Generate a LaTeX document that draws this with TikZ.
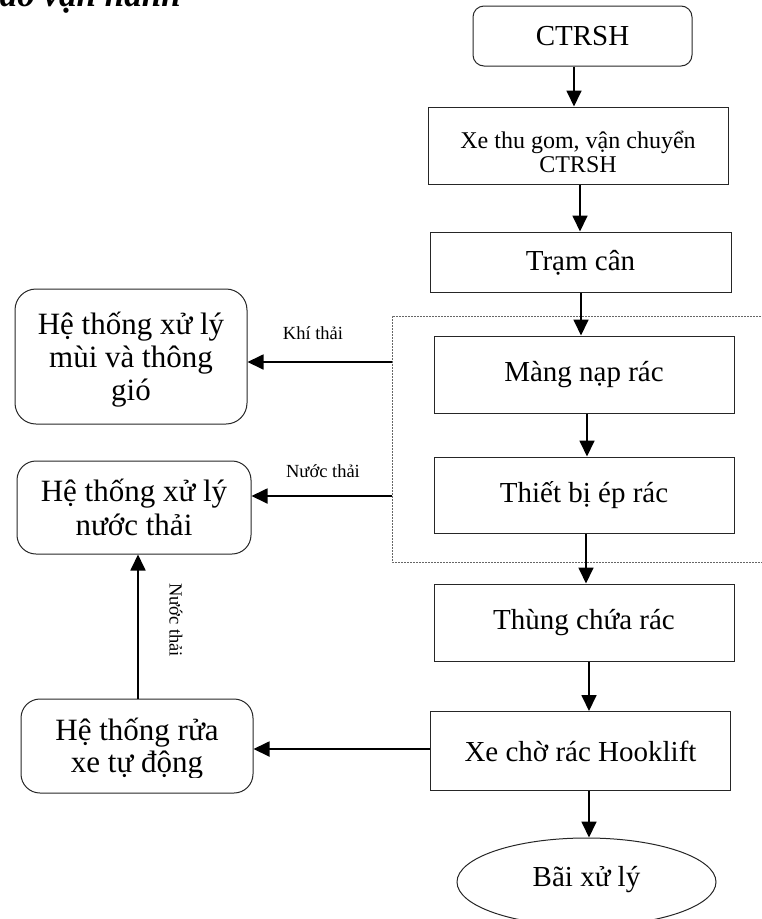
\documentclass[tikz,border=0pt]{standalone}
\usepackage{fontspec}
\setmainfont{Liberation Serif}
\usetikzlibrary{arrows.meta,shapes.geometric}

\newcommand{\fsMain}{\fontsize{29}{33}\selectfont}
\newcommand{\fsSide}{\fontsize{31}{32}\selectfont}
\newcommand{\fsSmall}{\fontsize{24}{24}\selectfont}
\newcommand{\fsLabel}{\fontsize{18.5}{20}\selectfont}

\tikzset{
  stepbox/.style={draw=black!85, line width=1pt, inner sep=0pt, align=center, font=\fsMain},
  sidebox/.style={draw=black!85, line width=1pt, inner sep=0pt, align=center, font=\fsSide, rounded corners=21pt},
  boxtext/.style={inner sep=0pt, align=center},
  flow/.style={line width=1.8pt, -{Triangle[length=16pt,width=15pt]}},
  zone/.style={draw=black!60, line width=0.8pt, dash pattern=on 1.6pt off 1.4pt},
  tag/.style={font=\fsLabel, inner sep=0pt}
}

\begin{document}
\begin{tikzpicture}[x=1pt,y=-1pt]
\useasboundingbox (0,0) rectangle (762,919);

% heading, only its lower edge lies on the page
\node[anchor=base east, inner sep=0pt, font=\bfseries\itshape\fontsize{35}{40}\selectfont] (title) at (181,6) {Sơ đồ vận hành};

% main line
\node[stepbox, rounded corners=11pt, minimum width=219pt, minimum height=60pt] (ctrsh) at (582.5,36) {CTRSH};
\node[stepbox, minimum width=300pt, minimum height=77pt] (xe) at (578,145.5) {};
\node[boxtext, font=\fsSmall] (xetext) at ([yshift=-6pt]xe.center) {Xe thu gom, vận chuyển\\CTRSH};
\node[stepbox, text depth=3pt, minimum width=301pt, minimum height=60pt] (tram) at (580.5,262) {Trạm cân};
\node[stepbox, minimum width=300pt, minimum height=77pt] (mang) at (584,374.5) {Màng nạp rác};
\node[stepbox, minimum width=300pt, minimum height=76pt] (thiet) at (584,495) {Thiết bị ép rác};
\node[stepbox, minimum width=300pt, minimum height=77pt] (thung) at (584,622.5) {Thùng chứa rác};
\node[stepbox, minimum width=300pt, minimum height=79pt] (hook) at (580.5,751) {Xe chờ rác Hooklift};
\node[stepbox, ellipse, text depth=11pt, minimum width=259pt, minimum height=88pt] (bai) at (586.5,882) {Bãi xử lý};

% enclosure around the loading and compacting units
\draw[zone] (770,316) -- (392,316) -- (392,562) -- (770,562);
\coordinate (gasout) at (392,362);
\coordinate (waterout) at (392,496);

% side systems
\node[sidebox, font=\fontsize{31}{33}\selectfont, minimum width=232pt, minimum height=135pt, text depth=-10pt] (odor) at (131,356.5) {Hệ thống xử lý\\mùi và thông\\gió};
\node[sidebox, font=\fontsize{31}{34}\selectfont, rounded corners=19pt, minimum width=234pt, minimum height=93pt] (wwt) at (134,507.5) {Hệ thống xử lý\\nước thải};
\node[sidebox, rounded corners=19pt, minimum width=232pt, minimum height=94pt] (wash) at (137,746) {};
\begin{scope}
  \clip (0,690) rectangle (300,777);
  \node[boxtext, font=\fsSide] (washtext) at ([yshift=-3pt]wash.center) {Hệ thống rửa\\xe tự động};
\end{scope}

% flow arrows
\draw[flow] (ctrsh.south -| 574,0) -- (xe.north -| 574,0);
\draw[flow] (xe.south -| 580,0) -- (tram.north -| 580,0);
\draw[flow] (tram.south -| 581,0) -- (mang.north -| 581,0);
\draw[flow] (mang.south -| 587,0) -- (thiet.north -| 587,0);
\draw[flow] (thiet.south -| 586,0) -- (thung.north -| 586,0);
\draw[flow] (thung.south -| 589,0) -- (hook.north -| 589,0);
\draw[flow] (hook.south -| 589,0) -- (bai.north -| 589,0);

\draw[flow] (gasout) -- (gasout -| odor.east);
\draw[flow] (waterout) -- (waterout -| wwt.east);
\draw[flow] (hook.west |- 0,749) -- (wash.east |- 0,749);
\draw[flow] (wash.north -| 138,0) -- (wwt.south -| 138,0);

% stream labels
\node[tag, anchor=base] (lgas) at (313,339) {Khí thải};
\node[tag, anchor=base] (lwater) at (323,477) {Nước thải};
\node[tag, rotate=-90] (lwash) at (176,620) {Nước thải};
\end{tikzpicture}
\end{document}
